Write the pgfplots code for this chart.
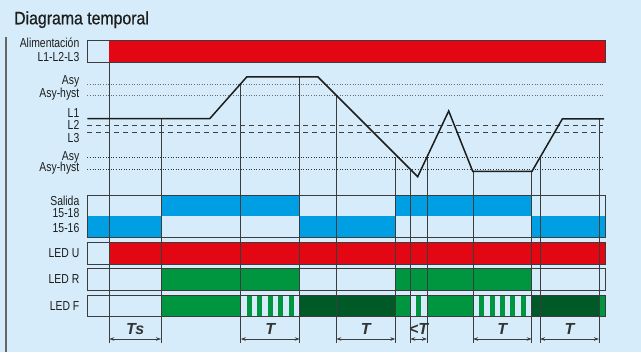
\documentclass[border=0pt]{standalone}
\usepackage{pgfplots}
\pgfplotsset{compat=1.18}
\usetikzlibrary{arrows.meta}
\usepackage{fontspec}
\setmainfont{Liberation Sans}
\newfontfamily\lblfont{Liberation Sans}[FakeStretch=0.8]
\newfontfamily\ttlfont{Liberation Sans}[FakeStretch=0.88, FakeBold=0.6]
\definecolor{bg}{RGB}{214,236,250}
\definecolor{cred}{RGB}{227,6,19}
\definecolor{cblue}{RGB}{0,159,227}
\definecolor{cgreen}{RGB}{0,150,64}
\definecolor{cdgreen}{RGB}{0,90,40}
\definecolor{ink}{RGB}{29,29,27}
\definecolor{frame}{RGB}{60,60,60}
\newcommand{\rect}[5]{\addplot[#5] coordinates {(#1,#2) (#3,#2) (#3,#4) (#1,#4)} -- cycle;}
\newcommand{\vl}[2]{\addplot[frame, line width=0.8pt] coordinates {(#1,#2) (#1,343.5)};}
\newcommand{\lbl}[2]{\node[anchor=base east, inner sep=0pt, font=\lblfont\fontsize{13}{13}\selectfont, text=ink] at (axis cs:79.5,#1) {#2};}
\newcommand{\arr}[3]{\addplot[frame, line width=0.8pt, {Stealth[length=5pt,width=3.5pt]}-{Stealth[length=5pt,width=3.5pt]}] coordinates {(#1,339) (#2,339)};
\node[anchor=base, inner sep=0pt, font=\bfseries\itshape\fontsize{16}{16}\selectfont, text=ink!90] at (axis cs:{(#1+#2)/2},334.5) {#3};}
\begin{document}
\begin{tikzpicture}
\begin{axis}[x=1pt, y=1pt, y dir=reverse, xmin=0, xmax=641, ymin=0, ymax=352,
  hide axis, clip=false, scale only axis]
% background
\rect{0}{0}{641}{352}{fill=bg, draw=none}
\addplot[gray!80!black, line width=1.2pt] coordinates {(6,37) (6,352)};
% Alimentacion
\rect{109.3}{40.7}{605.7}{62}{fill=cred, draw=none}
\rect{87.3}{40.7}{605.7}{62}{draw=frame, line width=0.9pt}
% Salida
\rect{161}{195}{299.7}{216.3}{fill=cblue, draw=none}
\rect{395.3}{195}{531.7}{216.3}{fill=cblue, draw=none}
\rect{87.3}{216.3}{161}{237.3}{fill=cblue, draw=none}
\rect{299.7}{216.3}{395.3}{237.3}{fill=cblue, draw=none}
\rect{531.7}{216.3}{605.7}{237.3}{fill=cblue, draw=none}
\rect{87.3}{195}{605.7}{237.3}{draw=frame, line width=0.9pt}
% LED U
\rect{109.3}{242.7}{605.7}{264.3}{fill=cred, draw=none}
\rect{87.3}{242.7}{605.7}{264.3}{draw=frame, line width=0.9pt}
% LED R
\rect{161}{268.3}{299.7}{290}{fill=cgreen, draw=none}
\rect{395.3}{268.3}{531.7}{290}{fill=cgreen, draw=none}
\rect{87.3}{268.3}{605.7}{290}{draw=frame, line width=0.9pt}
% LED F
\rect{161}{295}{240.7}{316.7}{fill=cgreen, draw=none}
\rect{299.7}{295}{395.3}{316.7}{fill=cdgreen, draw=none}
\rect{395.3}{295}{410.3}{316.7}{fill=cgreen, draw=none}
\rect{427}{295}{473}{316.7}{fill=cgreen, draw=none}
\rect{531.7}{295}{599}{316.7}{fill=cdgreen, draw=none}
\rect{599}{295}{605.7}{316.7}{fill=cgreen, draw=none}
% stripes
\rect{246.7}{295}{252}{316.7}{fill=cgreen, draw=none}
\rect{257}{295}{262.3}{316.7}{fill=cgreen, draw=none}
\rect{267.7}{295}{273}{316.7}{fill=cgreen, draw=none}
\rect{278}{295}{283.3}{316.7}{fill=cgreen, draw=none}
\rect{289}{295}{294}{316.7}{fill=cgreen, draw=none}
\rect{416}{295}{421}{316.7}{fill=cgreen, draw=none}
\rect{479}{295}{484}{316.7}{fill=cgreen, draw=none}
\rect{489.7}{295}{494.7}{316.7}{fill=cgreen, draw=none}
\rect{500}{295}{505}{316.7}{fill=cgreen, draw=none}
\rect{510.3}{295}{515.3}{316.7}{fill=cgreen, draw=none}
\rect{521}{295}{526}{316.7}{fill=cgreen, draw=none}
\rect{87.3}{295}{605.7}{316.7}{draw=frame, line width=0.9pt}
% threshold lines
\addplot[gray!85!black, line width=0.6pt, dotted] coordinates {(87.3,84) (604,84)};
\addplot[gray!85!black, line width=0.6pt, dotted] coordinates {(87.3,95.7) (604,95.7)};
\addplot[black!80, line width=0.6pt, dotted] coordinates {(87.3,157) (604,157)};
\addplot[black!80, line width=0.6pt, dotted] coordinates {(87.3,169) (604,169)};
\addplot[black!75, line width=0.8pt, dash pattern=on 5pt off 4pt] coordinates {(87.3,125.7) (603,125.7)};
\addplot[black!75, line width=0.8pt, dash pattern=on 5pt off 4pt] coordinates {(87.3,132.7) (603,132.7)};
% vertical lines
\vl{109.3}{62}
\vl{161}{118.7}
\vl{240.7}{84}
\vl{299.7}{77}
\vl{336.3}{95.7}
\vl{395.3}{157}
\vl{410.3}{169}
\vl{427}{157}
\vl{473}{171.3}
\vl{531.7}{171.3}
\vl{540}{157}
\vl{599}{119}
% signal
\addplot[ink, line width=1.5pt, line join=miter] coordinates {(87.3,118.7) (209.7,118.7) (246.7,77) (318,77) (417.7,176.7) (448.7,111) (472.7,171.3) (532,171.3) (562.3,119) (604,119)};
% title
\node[anchor=base west, inner sep=0pt, font=\ttlfont\fontsize{18}{18}\selectfont, text=ink] at (axis cs:14,24.3) {Diagrama temporal};
% labels
\lbl{47.3}{Alimentación}
\lbl{61.7}{L1-L2-L3}
\lbl{85}{Asy}
\lbl{97.5}{Asy-hyst}
\lbl{117.2}{L1}
\lbl{129.8}{L2}
\lbl{142.5}{L3}
\lbl{160.2}{Asy}
\lbl{172}{Asy-hyst}
\lbl{205.5}{Salida}
\lbl{217.5}{15-18}
\lbl{233}{15-16}
\lbl{257.7}{LED U}
\lbl{283.5}{LED R}
\lbl{311}{LED F}
% arrows
\arr{109.3}{161}{Ts}
\arr{240.7}{299.7}{T}
\arr{336.3}{395.3}{T}
\arr{410.3}{427}{<T}
\arr{473}{531.7}{T}
\arr{540}{599}{T}
\end{axis}
\end{tikzpicture}
\end{document}
